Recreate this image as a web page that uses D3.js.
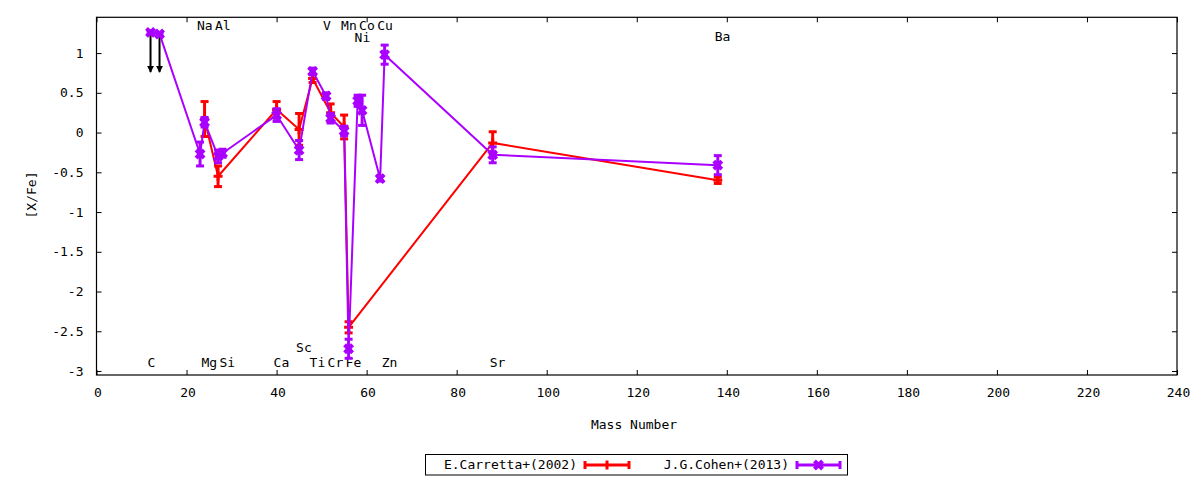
<!DOCTYPE html>
<html>
<head>
<meta charset="utf-8">
<script src="https://cdn.jsdelivr.net/npm/d3@7"></script>
<style>
  html, body { margin: 0; padding: 0; background: #fff; }
  svg { display: block; }
  text { font-family: "DejaVu Sans Mono", monospace; font-size: 13px; fill: #000; }
</style>
</head>
<body>
<svg id="chart" width="1200" height="480"></svg>
<script>
// ---- data ----
const xTicks = [0, 20, 40, 60, 80, 100, 120, 140, 160, 180, 200, 220, 240];
const yTicks = [1, 0.5, 0, -0.5, -1, -1.5, -2, -2.5, -3];
const yTickLabels = ["1", "0.5", "0", "-0.5", "-1", "-1.5", "-2", "-2.5", "-3"];

const seriesNames = ["E.Carretta+(2002)", "J.G.Cohen+(2013)"];

// E.Carretta+(2002)
const carrettaMass = [24, 27, 40, 45, 48, 52, 55, 56, 88, 138];
const carrettaVal  = [0.17, -0.55, 0.29, 0.04, 0.68, 0.25, 0.07, -2.45, -0.13, -0.60];
const carrettaErr  = [0.22, 0.13, 0.10, 0.20, 0.05, 0.11, 0.15, 0.07, 0.14, 0.04];

// J.G.Cohen+(2013)
const cohenMass = [12, 14, 23, 24, 27, 28, 40, 45, 48, 51, 52, 55, 56, 58, 59, 63, 64, 88, 138];
const cohenVal  = [1.26, 1.24, -0.27, 0.13, -0.30, -0.26, 0.22, -0.22, 0.77, 0.46, 0.18, 0.02, -2.72, 0.40, 0.28, -0.58, 0.98, -0.28, -0.41];
const cohenErr  = [0.02, 0.02, 0.15, 0.06, 0.08, 0.05, 0.08, 0.12, 0.04, 0.04, 0.06, 0.06, 0.12, 0.07, 0.19, 0.03, 0.12, 0.10, 0.12];

// upper-limit arrows
const arrowMass = [12, 14];
const arrowFrom = [1.25, 1.25];
const arrowTo   = [0.76, 0.76];

// element labels (mass position, value position)
const elemNames = ["Na", "Al", "V", "Mn", "Co", "Cu", "Ni", "Ba", "C", "Mg", "Si", "Ca", "Sc", "Ti", "Cr", "Fe", "Zn", "Sr"];
const elemMass  = [23, 27, 51, 55, 59, 63, 58, 138, 12, 24, 28, 40, 45, 48, 52, 56, 64, 88];
const elemY     = [1.33, 1.33, 1.33, 1.33, 1.33, 1.33, 1.18, 1.19, -2.90, -2.90, -2.90, -2.90, -2.72, -2.90, -2.90, -2.90, -2.90, -2.90];

// ---- drawing ----
const svg = d3.select("#chart");
const pLeft = 96.5, pRight = 1177, pTop = 17.3, pBottom = 375;
const x = d3.scaleLinear().domain([0, 240]).range([pLeft, pRight]);
const y = d3.scaleLinear().domain([-3.05, 1.45]).range([pBottom, pTop]);

const colors = ["#ff0000", "#aa00ff"];

// axes with inward ticks
const tickLen = 5;
const gx = svg.append("g").attr("transform", `translate(0,${pBottom})`)
  .call(d3.axisBottom(x).tickValues(xTicks).tickSizeInner(-tickLen).tickSizeOuter(0).tickPadding(13));
const gxTop = svg.append("g").attr("transform", `translate(0,${pTop})`)
  .call(d3.axisTop(x).tickValues(xTicks).tickSizeInner(-tickLen).tickSizeOuter(0).tickFormat(""));
const gy = svg.append("g").attr("transform", `translate(${pLeft},0)`)
  .call(d3.axisLeft(y).tickValues(yTicks).tickSizeInner(-tickLen).tickSizeOuter(0).tickPadding(13)
    .tickFormat((d, i) => yTickLabels[i]));
const gyR = svg.append("g").attr("transform", `translate(${pRight},0)`)
  .call(d3.axisRight(y).tickValues(yTicks).tickSizeInner(-tickLen).tickSizeOuter(0).tickFormat(""));
[gx, gxTop, gy, gyR].forEach(g => {
  g.select(".domain").remove();
  g.selectAll(".tick line").attr("stroke", "#000").attr("stroke-width", 1);
  g.selectAll("text").attr("font-family", "DejaVu Sans Mono").attr("font-size", 13).attr("fill", "#000");
});
gx.selectAll("text").attr("dx", 1);

svg.append("rect").attr("x", pLeft).attr("y", pTop)
  .attr("width", pRight - pLeft).attr("height", pBottom - pTop)
  .attr("fill", "none").attr("stroke", "#000").attr("stroke-width", 1.2);

// axis titles
svg.append("text").attr("x", 634).attr("y", 425).attr("text-anchor", "middle")
  .attr("dominant-baseline", "middle").text("Mass Number");
svg.append("text").attr("transform", "translate(32,195) rotate(-90)")
  .attr("text-anchor", "middle").attr("dominant-baseline", "middle").text("[X/Fe]");

// element labels
const plotG = svg.append("g");
elemNames.forEach((n, i) => {
  plotG.append("text").attr("x", x(elemMass[i]) - 3).attr("y", y(elemY[i]))
    .attr("text-anchor", "start").attr("dominant-baseline", "middle").text(n);
});

// arrows
const defs = svg.append("defs");
defs.append("marker").attr("id", "ah").attr("viewBox", "0 0 10 10")
  .attr("refX", 9).attr("refY", 5).attr("markerWidth", 3.5).attr("markerHeight", 3.5)
  .attr("orient", "auto").attr("markerUnits", "strokeWidth")
  .append("path").attr("d", "M0,0 L10,5 L0,10 Z").attr("fill", "#000");
arrowMass.forEach((m, i) => {
  plotG.append("line").attr("x1", x(m)).attr("x2", x(m))
    .attr("y1", y(arrowFrom[i])).attr("y2", y(arrowTo[i]))
    .attr("stroke", "#000").attr("stroke-width", 2).attr("marker-end", "url(#ah)");
});

function drawSeries(mass, val, err, color, pointType) {
  const pts = mass.map((m, i) => ({ m, v: val[i], e: err[i] }));
  const g = plotG.append("g");
  g.append("path").datum(pts)
    .attr("d", d3.line().x(d => x(d.m)).y(d => y(d.v)))
    .attr("fill", "none").attr("stroke", color).attr("stroke-width", 2);
  const capW = 4;
  pts.forEach(d => {
    const cx = x(d.m);
    g.append("line").attr("x1", cx).attr("x2", cx).attr("y1", y(d.v + d.e)).attr("y2", y(d.v - d.e))
      .attr("stroke", color).attr("stroke-width", 3);
    [d.v + d.e, d.v - d.e].forEach(v => {
      g.append("line").attr("x1", cx - capW).attr("x2", cx + capW).attr("y1", y(v)).attr("y2", y(v))
        .attr("stroke", color).attr("stroke-width", 3);
    });
    const cy = y(d.v);
    if (pointType === "plus") {
      g.append("path").attr("d", `M${cx - 4.5},${cy}H${cx + 4.5}M${cx},${cy - 4.5}V${cy + 4.5}`)
        .attr("stroke", color).attr("stroke-width", 3).attr("fill", "none");
    } else {
      g.append("path").attr("d", `M${cx - 4},${cy - 4}L${cx + 4},${cy + 4}M${cx - 4},${cy + 4}L${cx + 4},${cy - 4}`)
        .attr("stroke", color).attr("stroke-width", 4).attr("fill", "none");
      g.append("rect").attr("x", cx - 3).attr("y", cy - 3).attr("width", 6).attr("height", 6).attr("fill", color);
    }
  });
}

drawSeries(carrettaMass, carrettaVal, carrettaErr, colors[0], "plus");
drawSeries(cohenMass, cohenVal, cohenErr, colors[1], "x");

// legend
const lg = svg.append("g");
lg.append("rect").attr("x", 425.5).attr("y", 454.5).attr("width", 422).attr("height", 20.5)
  .attr("fill", "#fff").attr("stroke", "#000").attr("stroke-width", 1);
const legTextX = [577, 789];
const legS0 = [585, 797];
const legS1 = [629, 840];
const legY = 465;
seriesNames.forEach((n, i) => {
  lg.append("text").attr("x", legTextX[i]).attr("y", legY).attr("text-anchor", "end")
    .attr("dominant-baseline", "middle").text(n);
  const c = colors[i];
  lg.append("line").attr("x1", legS0[i]).attr("x2", legS1[i]).attr("y1", legY).attr("y2", legY)
    .attr("stroke", c).attr("stroke-width", 3);
  [legS0[i], legS1[i]].forEach(xx => {
    lg.append("line").attr("x1", xx).attr("x2", xx).attr("y1", legY - 4).attr("y2", legY + 4)
      .attr("stroke", c).attr("stroke-width", 3);
  });
  const mx = (legS0[i] + legS1[i]) / 2;
  if (i === 0) {
    lg.append("line").attr("x1", mx).attr("x2", mx).attr("y1", legY - 4.5).attr("y2", legY + 4.5)
      .attr("stroke", c).attr("stroke-width", 3);
  } else {
    lg.append("path").attr("d", `M${mx - 4},${legY - 4}L${mx + 4},${legY + 4}M${mx - 4},${legY + 4}L${mx + 4},${legY - 4}`)
      .attr("stroke", c).attr("stroke-width", 4);
  }
});
</script>
</body>
</html>
